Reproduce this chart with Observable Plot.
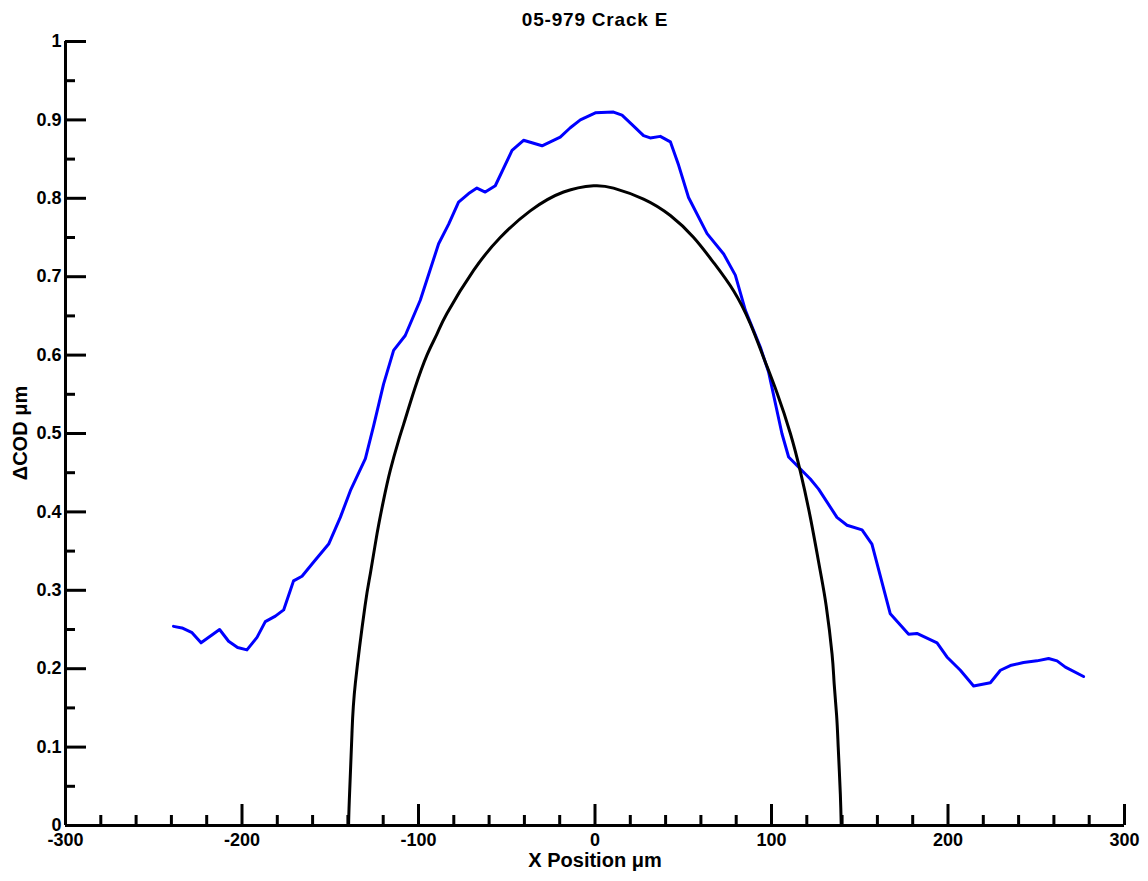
<!DOCTYPE html>
<html><head><meta charset="utf-8">
<script src="https://cdn.jsdelivr.net/npm/d3@7"></script>
<script src="https://cdn.jsdelivr.net/npm/@observablehq/plot@0.6"></script>
<style>
body{margin:0;background:#fff;font-family:"Liberation Sans",Arial,sans-serif;}
#wrap{position:relative;width:1148px;height:881px;}
.lbl{position:absolute;font-weight:bold;white-space:nowrap;color:#000;line-height:1;}
</style></head><body>
<div id="wrap">
<div id="chart"></div>
<div class="lbl" id="title" style="left:595px;top:10px;transform:translateX(-50%);font-size:19px;letter-spacing:0.8px">05-979 Crack E</div>
<div class="lbl" id="xlabel" style="left:595px;top:850px;transform:translateX(-50%);font-size:20px">X Position μm</div>
<div class="lbl" id="ylabel" style="left:20px;top:433px;transform:translate(-50%,-50%) rotate(-90deg);font-size:20px">ΔCOD μm</div>
</div>
<script>
// Measured ΔCOD (blue)
const blueX = [-238.8,-234.0,-228.3,-223.2,-212.7,-207.6,-202.5,-197.2,-191.5,-186.8,-181.1,-176.4,-172.6,-170.8,-166.0,-159.4,-150.9,-144.3,-138.6,-130.1,-125.4,-119.8,-114.1,-107.5,-99.0,-88.6,-82.9,-77.3,-71.6,-66.9,-62.2,-56.5,-47.0,-40.5,-30.0,-19.7,-14.0,-8.3,0.2,10.5,15.3,21.0,27.5,31.3,37.0,42.7,47.4,53.0,63.5,72.9,79.5,85.2,93.7,98.4,103.1,105.9,109.7,115.4,122.0,126.7,137.1,142.8,151.3,156.9,167.3,177.7,182.4,193.8,199.4,207.0,214.5,224.0,229.7,235.3,242.8,250.4,257.0,261.8,266.5,276.8];
const blueY = [0.254,0.252,0.246,0.233,0.250,0.235,0.227,0.224,0.240,0.260,0.267,0.275,0.300,0.312,0.318,0.336,0.359,0.393,0.427,0.468,0.510,0.563,0.606,0.625,0.670,0.742,0.767,0.795,0.806,0.813,0.808,0.816,0.861,0.874,0.867,0.878,0.890,0.900,0.909,0.910,0.906,0.894,0.880,0.877,0.879,0.872,0.842,0.801,0.755,0.729,0.702,0.657,0.610,0.578,0.529,0.500,0.470,0.457,0.442,0.429,0.393,0.383,0.377,0.359,0.270,0.244,0.245,0.233,0.215,0.198,0.178,0.182,0.198,0.204,0.208,0.210,0.213,0.210,0.202,0.190];
// Model ΔCOD (black)
const blackX = [-139.6,-139.2,-137.7,-135.8,-130.3,-127.3,-123.5,-119.8,-116.0,-111.3,-108.4,-102.0,-95.2,-89.5,-83.9,-68.8,-53.7,-36.7,-17.8,-0.8,10.5,27.5,42.7,55.9,67.2,78.5,88.0,95.5,103.1,110.7,116.3,122.0,127.6,131.0,134.3,135.5,136.9,137.8,139.0,139.5];
const blackY = [0.000,0.032,0.117,0.181,0.280,0.321,0.372,0.415,0.453,0.491,0.512,0.558,0.600,0.627,0.653,0.708,0.750,0.784,0.808,0.816,0.813,0.799,0.778,0.750,0.718,0.682,0.640,0.597,0.552,0.500,0.452,0.393,0.325,0.280,0.219,0.181,0.140,0.100,0.040,0.000];
// Ticks
const xMajor = [-300,-200,-100,0,100,200,300];
const xMinor = [-280,-260,-240,-220,-180,-160,-140,-120,-80,-60,-40,-20,20,40,60,80,120,140,160,180,220,240,260,280];
const yMajor = [0,0.1,0.2,0.3,0.4,0.5,0.6,0.7,0.8,0.9,1];
const yMinor = [0.05,0.15,0.25,0.35,0.45,0.55,0.65,0.75,0.85,0.95];

const blue = blueX.map((x,i)=>({x, y: blueY[i]}));
const black = blackX.map((x,i)=>({x, y: blackY[i]}));

const chart = Plot.plot({
  width: 1148, height: 881,
  marginLeft: 65, marginRight: 24, marginTop: 41, marginBottom: 56,
  x: {domain: [-300, 300], label: null},
  y: {domain: [0, 1], label: null},
  style: {fontFamily: "'Liberation Sans', Arial, sans-serif", fontWeight: "bold", fontSize: "18px", color: "#000", background: "#fff", overflow: "visible"},
  marks: [
    Plot.axisX(xMinor, {tickSize: -10, strokeWidth: 3, tickFormat: () => ""}),
    Plot.axisX(xMajor, {tickSize: -21, strokeWidth: 3, tickFormat: () => ""}),
    Plot.axisX(xMajor, {tickSize: 0, tickPadding: 8, tickFormat: d => String(d)}),
    Plot.axisY(yMinor, {tickSize: -10, strokeWidth: 3, tickFormat: () => ""}),
    Plot.axisY(yMajor, {tickSize: -21, strokeWidth: 3, tickFormat: () => ""}),
    Plot.axisY(yMajor, {tickSize: 0, tickPadding: 4, tickFormat: d => String(d)}),
    Plot.ruleX([-300], {strokeWidth: 3}),
    Plot.ruleY([0], {strokeWidth: 3}),
    Plot.line(blue, {x: "x", y: "y", stroke: "#0000ff", strokeWidth: 3}),
    Plot.line(black, {x: "x", y: "y", stroke: "#000", strokeWidth: 3, curve: "natural"})
  ]
});
document.getElementById("chart").appendChild(chart);
</script>
</body></html>
